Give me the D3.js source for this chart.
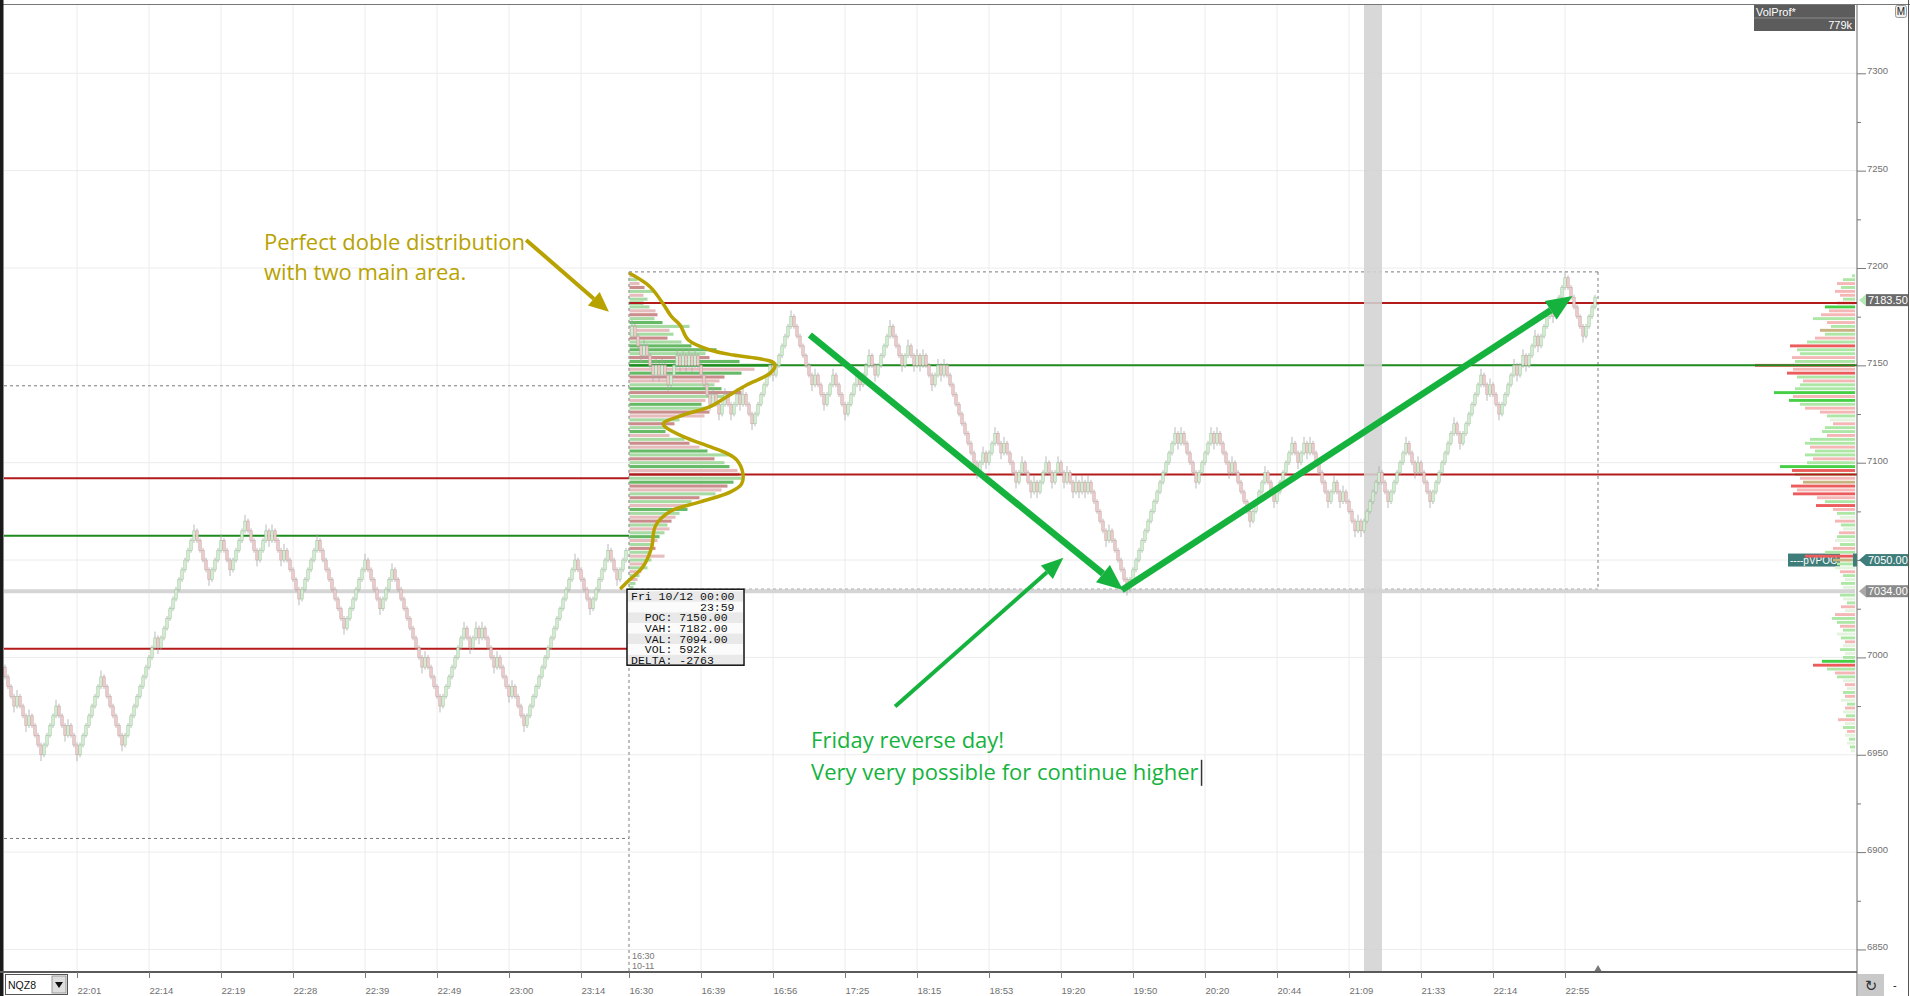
<!DOCTYPE html>
<html>
<head>
<meta charset="utf-8">
<script src="https://cdn.jsdelivr.net/npm/d3@7"></script>
<style>
  body { margin: 0; background: #fff; }
  svg { display: block; }
  .axis text { font-family: "Liberation Sans", Arial, sans-serif; font-size: 9.5px; fill: #707070; }
  .axis line { stroke: #7a7a7a; }
  .axis path { display: none; }
</style>
</head>
<body>
<svg id="chart" width="1910" height="996"></svg>
<script>
// NQZ8 range bars, every bar moves one box
const boxSize = 5;
const leftOpen = 6995;
const leftRuns = [-4,1,-3,1,-4,5,-3,1,-3,8,-7,11,-1,12,-5,4,-3,5,-4,3,-1,1,-3,1,-5,6,-9,7,-5,4,-10,1,-5,8,-2,2,-1,1,-4,1,-4,1,-4,17,-5,6,-3,3];
const rightOpen = 7165;
const rightRuns = [1,-3,1,-3,1,-1,1,-2,3,-1,1,-1,1,-1,1,-5,1,-2,2,-2,2,-1,1,-3,6,-1,6,-7,1,-3,3,-4,4,-1,3,-2,5,-4,2,-2,1,-1,1,-3,2,-1,1,-11,2,-1,3,-2,1,-4,2,-3,1,-1,3,-2,2,-2,1,-2,1,-1,1,-1,1,-6,1,-6,16,-1,1,-5,5,-1,1,-4,1,-6,5,-3,6,-2,2,-1,1,-6,2,-2,1,-4,1,-1,6,-3,6,-3,1,-4,8,-2,7,-2,1,-3,5,-1,2,-1,3,-1,4,-1,4,-6,4];
const sessionSlot = 208;   // 16:30 10-11 session break
const lastPrice = 7183.5;

const tickSlots = [24,48,72,96,120,144,168,192,208,232,256,280,304,328,352,376,400,424,448,472,496,520];
const tickLabels = ['22:01','22:14','22:19','22:28','22:39','22:49','23:00','23:14','16:30','16:39','16:56','17:25','18:15','18:53','19:20','19:50','20:20','20:44','21:09','21:33','22:14','22:55'];
const priceTicks = [6850,6900,6950,7000,7050,7100,7150,7200,7250,7300];
const minorTicks = [6875,6925,6975,7025,7075,7125,7175,7225,7275];

// value areas: [VAH, POC, VAL]
const prevLevels = [7092, 7062.5, 7004.5];
const curLevels = [7182, 7150, 7094];
const prevRange = [7139.5, 6907];
const sessRange = [7198, 7034];
const pvpoc = 7050;
const highlightSlots = [453, 459];

// session profile (2 pt rows from the top price down)
const profStep = 2;
const leftProfTop = 7196;
const leftProfVol = [6,8,10,15,25,14,18,14,20,26,28,25,33,60,40,44,38,52,62,87,76,80,110,145,125,112,95,90,85,92,112,100,76,72,78,80,75,50,45,38,36,40,55,60,70,78,99,85,95,100,108,110,112,104,98,92,86,70,62,55,58,50,46,42,38,40,35,30,28,24,26,20,35,22,16,18,12,10,8,6,4];
const leftProfDelta = "rgrRgrgGgrRgGgrgRgGGgRGGrGRrgGRgrGgRrgRgGrgRrGgRgGrRgGRrgRgrGgrRgrgGrgRgrgrgrgrg";
const rightProfTop = 7196;
const rightProfVol = [3,12,18,14,20,15,12,18,30,26,34,42,28,24,35,30,40,48,65,58,55,63,60,100,62,68,58,52,55,60,81,62,66,55,50,35,28,25,22,30,33,28,45,50,45,40,50,42,48,75,63,60,55,52,64,58,62,38,30,39,22,18,15,20,14,12,16,18,20,15,22,30,50,22,18,20,15,12,10,14,12,10,15,12,8,14,10,20,23,18,15,12,18,14,10,12,15,10,12,33,42,28,20,18,12,10,8,12,10,14,8,10,12,9,17,10,12,8,10,6,8,5,4];
const rightProfDelta = "ggrgrrgrGrrgrgogrgRggrgRrRgrggGrGgrrgprggrggrggrgGRgroRrRrgRrgprgprgpgrgRogprgpgpggpgrprggrgpgrpgpgGRgrgprpgrpgrpgrpgrpgpgp";

const tipHead = ['Fri 10/12 00:00', '23:59'];
const tipNames = ['POC', 'VAH', 'VAL', 'VOL', 'DELTA'];
const tipValues = ['7150.00', '7182.00', '7094.00', '592k', '-2763'];

// hand drawn notes, [bar slot, price]
const goldCurve = [[208.5,7197],[215,7190.4],[218.9,7182.7],[222.2,7175],[225,7170.7],[227.8,7163],[235,7157.9],[242.8,7155.3],[250.6,7153.6],[255.6,7151.9],[256.7,7150.2],[255,7145.9],[247.2,7139.9],[240.6,7133.9],[235,7128.8],[226.1,7124.5],[219.4,7120.2],[220,7118.5],[226.1,7113.4],[235,7108.2],[240.6,7104.8],[243.9,7101.4],[246,7094],[245.5,7089],[241.9,7085],[231.8,7079.9],[221.7,7074.9],[216.8,7067.5],[215.5,7056.2],[212.7,7046.7],[207.4,7038.7],[205.4,7035.6]];
const goldArrow = [[173.7,7214.4],[201.3,7177.5]];
const greenArrows = [[[268.3,7165.6],[372.7,7034.6]], [[372.3,7034.6],[522.5,7185.6]], [[296.7,6974.8],[352.8,7051.2]]];
const goldNote = ['Perfect doble distribution', 'with two main area.'];
const goldNoteAt = [86.3, 7209.2];
const greenNote = ['Friday reverse day!', 'Very very possible for continue higher'];
const greenNoteAt = [268.7, 6953.3];

const svg = d3.select('#chart');
const plotTop = 5, plotBottom = 972, axisX = 1857;

let x = d3.scaleLinear().domain([0, 530]).range([5, 1595]);
let y = d3.scaleLinear().domain([7300, 6850]).range([73.3, 949.45]);

function buildBars(open, runs, firstSlot) {
  let bars = [], prev = open, slot = firstSlot;
  runs.forEach((n, ri) => {
    const dir = Math.sign(n);
    for (let k = 0; k < Math.abs(n); k++) {
      const close = prev + dir * boxSize;
      bars.push({ slot: slot++, open: prev, close: close, dir: dir,
                  pivot: k === Math.abs(n) - 1 && ri < runs.length - 1 });
      prev = close;
    }
  });
  return bars;
}

let bars = buildBars(leftOpen, leftRuns, 0).concat(buildBars(rightOpen, rightRuns, sessionSlot + 1));

svg.append('rect').attr('width', 1910).attr('height', 996).attr('fill', '#fff');

// grid
let grid = svg.append('g');
grid.selectAll('line.v')
  .data(tickSlots.filter(d => d !== sessionSlot))
  .join('line')
  .attr('x1', d => x(d)).attr('x2', d => x(d))
  .attr('y1', plotTop).attr('y2', plotBottom)
  .attr('stroke', '#ececec');
grid.selectAll('line.h')
  .data(priceTicks)
  .join('line')
  .attr('x1', 4).attr('x2', axisX)
  .attr('y1', d => y(d)).attr('y2', d => y(d))
  .attr('stroke', '#ececec');

// session ranges
let ranges = svg.append('g').attr('stroke', '#7a7a7a').attr('stroke-dasharray', '3,3').attr('fill', 'none');
prevRange.forEach(p => {
  ranges.append('line').attr('x1', 4).attr('x2', x(sessionSlot)).attr('y1', y(p)).attr('y2', y(p));
});
ranges.append('line').attr('x1', x(sessionSlot)).attr('x2', x(531)).attr('y1', y(sessRange[0])).attr('y2', y(sessRange[0]));
ranges.append('line').attr('x1', x(531)).attr('x2', x(531)).attr('y1', y(sessRange[0])).attr('y2', y(sessRange[1]));
ranges.append('line').attr('x1', x(sessionSlot)).attr('x2', x(531)).attr('y1', y(sessRange[1]) - 2).attr('y2', y(sessRange[1]) - 2);

// pVPOC tag sits under the right profile
svg.append('rect').attr('x', 1788).attr('y', y(pvpoc) - 6.5).attr('width', 52).attr('height', 13).attr('fill', '#3f7d7b');
svg.append('text').attr('x', 1790).attr('y', y(pvpoc) + 3.5)
  .attr('font-family', 'Liberation Sans, Arial').attr('font-size', 10).attr('fill', '#fff').text('----pVPOC');

// profiles
const leftColors = { G: '#66ba66', g: '#a8dba4', R: '#cb8c8c', r: '#e6bcbc', o: '#a8a27a' };
const rightColors = { G: '#45cf45', g: '#ade7a5', p: '#e4f3de', R: '#ec5c5c', r: '#f5b6b6', o: '#c8b27f' };

function rows(top, vols, codes) {
  return vols.map((v, i) => ({ price: top - i * profStep, vol: v, code: codes[i] }));
}

let leftW = d3.scaleLinear().domain([0, d3.max(leftProfVol)]).range([0, 145]);
svg.append('g').selectAll('rect')
  .data(rows(leftProfTop, leftProfVol, leftProfDelta))
  .join('rect')
  .attr('x', x(sessionSlot) + 0.5)
  .attr('y', d => y(d.price + profStep / 2) + 0.4)
  .attr('width', d => leftW(d.vol))
  .attr('height', d => y(d.price - profStep / 2) - y(d.price + profStep / 2) - 0.8)
  .attr('fill', d => leftColors[d.code] || '#a8dba4');

let rightW = d3.scaleLinear().domain([0, d3.max(rightProfVol)]).range([0, 100]);
svg.append('g').selectAll('rect')
  .data(rows(rightProfTop, rightProfVol, rightProfDelta))
  .join('rect')
  .attr('x', d => 1855 - rightW(d.vol))
  .attr('y', d => y(d.price + profStep / 2) + 0.5)
  .attr('width', d => rightW(d.vol))
  .attr('height', d => y(d.price - profStep / 2) - y(d.price + profStep / 2) - 1)
  .attr('fill', d => rightColors[d.code] || '#e4f3de');

// session low line
svg.append('line').attr('x1', 4).attr('x2', 1855).attr('y1', y(sessRange[1])).attr('y2', y(sessRange[1]))
  .attr('stroke', '#d5d5d5').attr('stroke-width', 4);

// value area lines
const levelColor = ['#b31b1b', '#1f8a1f', '#b31b1b'];
prevLevels.forEach((p, i) => {
  svg.append('line').attr('x1', 4).attr('x2', x(sessionSlot)).attr('y1', y(p)).attr('y2', y(p))
    .attr('stroke', levelColor[i]).attr('stroke-width', 2);
});
curLevels.forEach((p, i) => {
  svg.append('line').attr('x1', x(sessionSlot)).attr('x2', 1857).attr('y1', y(p)).attr('y2', y(p))
    .attr('stroke', levelColor[i]).attr('stroke-width', 2);
});

// highlighted bar column
svg.append('rect')
  .attr('x', x(highlightSlots[0])).attr('width', x(highlightSlots[1]) - x(highlightSlots[0]))
  .attr('y', plotTop).attr('height', plotBottom - plotTop)
  .attr('fill', '#d3d3d3').attr('opacity', 0.88);

// bars
let barG = svg.append('g');
barG.selectAll('line')
  .data(bars)
  .join('line')
  .attr('x1', d => x(d.slot)).attr('x2', d => x(d.slot))
  .attr('y1', d => y(Math.max(d.open, d.close) + 1.25 + (d.pivot && d.dir > 0 ? 2 : 0)))
  .attr('y2', d => y(Math.min(d.open, d.close) - 1.25 - (d.pivot && d.dir < 0 ? 2 : 0)))
  .attr('stroke', '#a8a8a8').attr('stroke-width', 0.8);
barG.selectAll('rect')
  .data(bars)
  .join('rect')
  .attr('x', d => x(d.slot) - 1.2)
  .attr('width', 2.4)
  .attr('y', d => y(Math.max(d.open, d.close)))
  .attr('height', d => Math.abs(y(d.open) - y(d.close)))
  .attr('fill', d => d.dir > 0 ? '#daf0d8' : '#edd0d0')
  .attr('stroke', d => d.dir > 0 ? '#9cc59c' : '#c9a2a2')
  .attr('stroke-width', 0.6);

// session break
svg.append('line').attr('x1', x(sessionSlot)).attr('x2', x(sessionSlot))
  .attr('y1', y(sessRange[0])).attr('y2', plotBottom)
  .attr('stroke', '#7a7a7a').attr('stroke-dasharray', '3,3');
svg.append('text').attr('x', x(sessionSlot) + 3).attr('y', 959)
  .attr('font-family', 'Liberation Sans, Arial').attr('font-size', 9).attr('fill', '#777').text(tickLabels[tickSlots.indexOf(sessionSlot)]);
svg.append('text').attr('x', x(sessionSlot) + 3).attr('y', 969)
  .attr('font-family', 'Liberation Sans, Arial').attr('font-size', 9).attr('fill', '#777').text('10-11');

// profile info box
let tipLines = [tipHead[0], tipHead[1].padStart(15)].concat(tipNames.map((n, i) => n.padStart(5) + ': ' + tipValues[i]));
let tip = svg.append('g').attr('transform', `translate(${x(sessionSlot) - 2},${y(sessRange[1]) - 2})`);
tip.append('rect').attr('width', 117).attr('height', 76).attr('fill', '#fff');
tip.selectAll('rect.row')
  .data(tipLines)
  .join('rect')
  .attr('x', 1).attr('y', (d, i) => 2 + i * 10.6).attr('width', 115).attr('height', 10.6)
  .attr('fill', (d, i) => i % 2 === 0 ? '#e9e9e9' : '#fbfbfb');
tip.selectAll('text')
  .data(tipLines)
  .join('text')
  .attr('x', 4).attr('y', (d, i) => 11 + i * 10.6)
  .attr('xml:space', 'preserve').style('white-space', 'pre')
  .attr('font-family', 'Liberation Mono, Courier New, monospace').attr('font-size', 11.5).attr('fill', '#111')
  .text(d => d);
tip.append('rect').attr('width', 117).attr('height', 76).attr('fill', 'none').attr('stroke', '#111').attr('stroke-width', 1.5);

// notes
const gold = '#b8a200', green = '#15b33e';
let line = d3.line().x(d => x(d[0])).y(d => y(d[1])).curve(d3.curveCatmullRom.alpha(0.5));
svg.append('path').attr('d', line(goldCurve)).attr('fill', 'none')
  .attr('stroke', gold).attr('stroke-width', 3.5).attr('stroke-linecap', 'round');

function arrow(pts, color, width, headLen, headW) {
  const x0 = x(pts[0][0]), y0 = y(pts[0][1]), x1 = x(pts[1][0]), y1 = y(pts[1][1]);
  const len = Math.hypot(x1 - x0, y1 - y0), ux = (x1 - x0) / len, uy = (y1 - y0) / len;
  const bx = x1 - ux * headLen, by = y1 - uy * headLen;
  svg.append('line').attr('x1', x0).attr('y1', y0).attr('x2', bx).attr('y2', by)
    .attr('stroke', color).attr('stroke-width', width);
  svg.append('path')
    .attr('d', `M${x1},${y1}L${bx - uy * headW},${by + ux * headW}L${bx + uy * headW},${by - ux * headW}Z`)
    .attr('fill', color);
}
arrow(goldArrow, gold, 4, 20, 9);
arrow(greenArrows[0], green, 6.5, 26, 11);
arrow(greenArrows[1], green, 6.5, 26, 11);
arrow(greenArrows[2], green, 4, 22, 9);

function note(lines, at, color, lead) {
  let t = svg.append('g');
  lines.forEach((s, i) => {
    t.append('text').attr('x', x(at[0])).attr('y', y(at[1]) + i * lead)
      .attr('font-family', 'Open Sans, Liberation Sans, sans-serif').attr('font-size', 22)
      .attr('fill', color).text(s);
  });
  return t;
}
note(goldNote, goldNoteAt, gold, 30);
let gn = note(greenNote, greenNoteAt, green, 31.5);
let lastLine = gn.selectAll('text').nodes().pop();
let cx = x(greenNoteAt[0]) + lastLine.getComputedTextLength() + 3;
svg.append('line').attr('x1', cx).attr('x2', cx).attr('y1', y(greenNoteAt[1]) + 31.5 - 20).attr('y2', y(greenNoteAt[1]) + 31.5 + 6)
  .attr('stroke', '#333').attr('stroke-width', 1.5);

// frame
svg.append('line').attr('x1', 0).attr('x2', 1910).attr('y1', 4.5).attr('y2', 4.5).attr('stroke', '#777');
svg.append('rect').attr('x', 0).attr('y', 0).attr('width', 3.5).attr('height', 996).attr('fill', '#1a1a1a');
svg.append('line').attr('x1', 1908.5).attr('x2', 1908.5).attr('y1', 0).attr('y2', 996).attr('stroke', '#555');
svg.append('line').attr('x1', axisX).attr('x2', axisX).attr('y1', plotTop).attr('y2', 996).attr('stroke', '#6a6a6a');
svg.append('line').attr('x1', 0).attr('x2', axisX).attr('y1', plotBottom).attr('y2', plotBottom).attr('stroke', '#5a5a5a').attr('stroke-width', 2);

// price axis; the pVPOC tag covers its own tick label
let yAxis = svg.append('g').attr('class', 'axis').attr('transform', `translate(${axisX},0)`)
  .call(d3.axisRight(y).tickValues(priceTicks).tickSize(9).tickPadding(1).tickFormat(d3.format('d')));
yAxis.selectAll('text').attr('dy', '0.05em');
yAxis.selectAll('.tick').filter(d => d === pvpoc).select('text').remove();
svg.append('g').attr('class', 'axis').attr('transform', `translate(${axisX},0)`)
  .call(d3.axisRight(y).tickValues(minorTicks).tickSize(4).tickFormat(''));

// time axis
let xAxis = svg.append('g').attr('class', 'axis').attr('transform', `translate(0,${plotBottom})`)
  .call(d3.axisBottom(x).tickValues(tickSlots).tickSize(6).tickFormat((d, i) => tickLabels[i]));
xAxis.selectAll('text').attr('text-anchor', 'start').attr('x', 0).attr('y', 21.5).attr('dy', 0);

// price tags on the axis
function tag(p, label, bg, arrowFill) {
  const yy = y(p);
  svg.append('path').attr('d', `M1859,${yy}L1866,${yy - 6}L1866,${yy + 6}Z`).attr('fill', arrowFill);
  svg.append('rect').attr('x', 1866).attr('y', yy - 6).attr('width', 42).attr('height', 12).attr('fill', bg);
  svg.append('text').attr('x', 1868).attr('y', yy + 4)
    .attr('font-family', 'Liberation Sans, Arial').attr('font-size', 11).attr('fill', '#fff').text(label);
}
tag(lastPrice, d3.format('.2f')(lastPrice), '#6b6b6b', '#b5e8b5');
tag(pvpoc, d3.format('.2f')(pvpoc), '#3f7d7b', '#3f7d7b');
tag(sessRange[1], d3.format('.2f')(sessRange[1]), '#8a8a8a', '#a8a8a8');
svg.append('rect').attr('x', 1853).attr('y', y(pvpoc) - 6.5).attr('width', 4).attr('height', 13).attr('fill', '#3f7d7b');

// last bar marker
svg.append('path').attr('d', `M${x(531)},${plotBottom - 7}L${x(531) - 3.5},${plotBottom - 1}L${x(531) + 3.5},${plotBottom - 1}Z`).attr('fill', '#777');

// VolProf header
svg.append('rect').attr('x', 1754).attr('y', 5).attr('width', 101).attr('height', 26).attr('fill', '#5c5c5c');
svg.append('line').attr('x1', 1754).attr('x2', 1855).attr('y1', 18).attr('y2', 18).attr('stroke', '#8a8a8a');
svg.append('text').attr('x', 1756).attr('y', 15.5).attr('font-family', 'Liberation Sans, Arial').attr('font-size', 11).attr('fill', '#fff').text('VolProf*');
svg.append('text').attr('x', 1852).attr('y', 28.5).attr('text-anchor', 'end').attr('font-family', 'Liberation Sans, Arial').attr('font-size', 11).attr('fill', '#fff').text('779k');
svg.append('rect').attr('x', 1895.5).attr('y', 5.5).attr('width', 11).attr('height', 12).attr('rx', 2).attr('fill', '#eee').attr('stroke', '#999');
svg.append('text').attr('x', 1901).attr('y', 15).attr('text-anchor', 'middle').attr('font-family', 'Liberation Sans, Arial').attr('font-size', 10).attr('fill', '#222').text('M');

// instrument selector and refresh
svg.append('rect').attr('x', 5.5).attr('y', 974.5).attr('width', 62).attr('height', 20).attr('fill', '#fff').attr('stroke', '#555');
svg.append('rect').attr('x', 52).attr('y', 976).attr('width', 14).attr('height', 17).attr('fill', '#dedede').attr('stroke', '#999');
svg.append('path').attr('d', 'M55,982L63,982L59,988Z').attr('fill', '#111');
svg.append('text').attr('x', 8).attr('y', 989).attr('font-family', 'Liberation Sans, Arial').attr('font-size', 10.5).attr('fill', '#111').text('NQZ8');
svg.append('rect').attr('x', 1858).attr('y', 974).attr('width', 26).attr('height', 22).attr('fill', '#c9c9c9');
svg.append('text').attr('x', 1871).attr('y', 991).attr('text-anchor', 'middle').attr('font-family', 'DejaVu Sans').attr('font-size', 15).attr('fill', '#333').text('\u21bb');
svg.append('text').attr('x', 1893).attr('y', 989).attr('font-family', 'Liberation Sans, Arial').attr('font-size', 11).attr('fill', '#111').text('-');
</script>
</body>
</html>
